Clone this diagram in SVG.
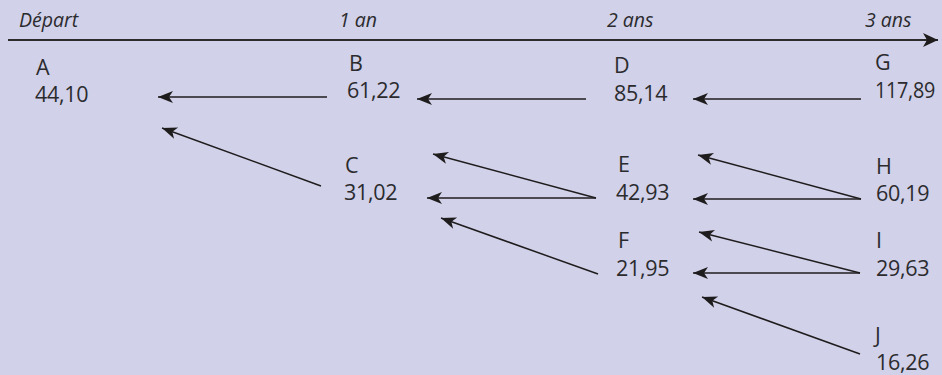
<svg xmlns="http://www.w3.org/2000/svg" width="942" height="375" viewBox="0 0 942 375">
<style>
.hd{font-family:"Open Sans","Liberation Sans",sans-serif;font-style:italic;font-size:19.5px;fill:#2b2b2e}
.t{font-family:"Open Sans","Liberation Sans",sans-serif;font-size:21.5px;letter-spacing:-0.3px;fill:#2b2b2e}
.c line{stroke:#1f1c1d;stroke-width:1.5;marker-end:url(#ah)}
</style>
<defs>
<marker id="ah" markerUnits="userSpaceOnUse" markerWidth="18" markerHeight="14" viewBox="0 -7 16 14" refX="15" refY="0" orient="auto">
<path d="M0,-6 L15,0 L0,6 L4,0 Z" fill="#1f1c1d"/>
</marker>
<marker id="ax" markerUnits="userSpaceOnUse" markerWidth="18" markerHeight="16" viewBox="0 -8 16 16" refX="15" refY="0" orient="auto">
<path d="M0,-7 L15,0 L0,7 L4,0 Z" fill="#1f1c1d"/>
</marker>
</defs>
<rect width="942" height="375" fill="#d1d1e9"/>
<g id="axis">
<line x1="8" y1="40" x2="938" y2="40" stroke="#2b2b2e" stroke-width="2" marker-end="url(#ax)"/>
<text class="hd" x="19" y="27">Départ</text>
<text class="hd" x="339" y="27">1 an</text>
<text class="hd" x="607" y="27">2 ans</text>
<text class="hd" x="865" y="27">3 ans</text>
</g>
<g id="connectors" class="c">
<line x1="327" y1="97" x2="158" y2="97"/>
<line x1="321" y1="186" x2="162" y2="128"/>
<line x1="586" y1="99" x2="417" y2="99"/>
<line x1="596" y1="198" x2="433" y2="154"/>
<line x1="596" y1="198" x2="427" y2="198"/>
<line x1="598" y1="274" x2="441" y2="218"/>
<line x1="861" y1="99" x2="693" y2="99"/>
<line x1="861" y1="199" x2="698" y2="155"/>
<line x1="861" y1="199" x2="693" y2="199"/>
<line x1="860" y1="273" x2="699" y2="232"/>
<line x1="860" y1="273" x2="693" y2="273"/>
<line x1="860" y1="354" x2="702" y2="297"/>
</g>
<g id="A"><text class="t" x="36" y="75">A</text><text class="t" x="35" y="102">44,10</text></g>
<g id="B"><text class="t" x="349" y="71">B</text><text class="t" x="347" y="98">61,22</text></g>
<g id="C"><text class="t" x="345" y="173">C</text><text class="t" x="344" y="200">31,02</text></g>
<g id="D"><text class="t" x="614" y="73">D</text><text class="t" x="614" y="101">85,14</text></g>
<g id="E"><text class="t" x="618" y="172">E</text><text class="t" x="616" y="200">42,93</text></g>
<g id="F"><text class="t" x="618" y="248">F</text><text class="t" x="616" y="276">21,95</text></g>
<g id="G"><text class="t" x="875" y="70">G</text><text class="t" x="875" y="98" textLength="60" lengthAdjust="spacingAndGlyphs">117,89</text></g>
<g id="H"><text class="t" x="876" y="174">H</text><text class="t" x="876" y="201">60,19</text></g>
<g id="I"><text class="t" x="876" y="248">I</text><text class="t" x="876" y="276">29,63</text></g>
<g id="J"><text class="t" x="875" y="343">J</text><text class="t" x="876" y="370">16,26</text></g>
</svg>
